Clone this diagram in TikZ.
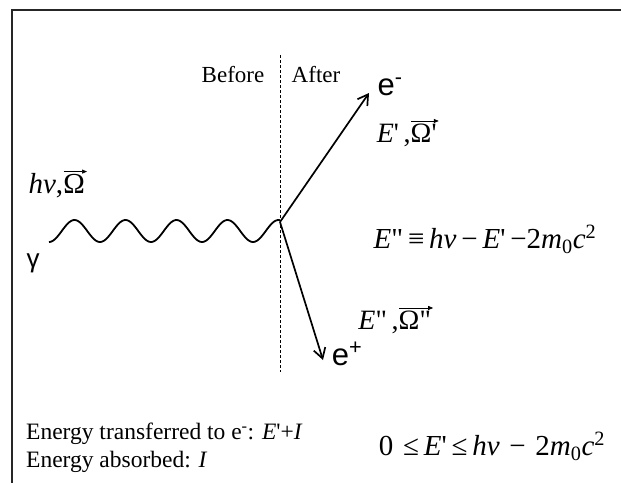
\RequirePackage{fix-cm}
\documentclass[tikz,border=0pt]{standalone}
\usepackage{fontspec}
\setmainfont{Liberation Serif}[Ligatures=TeXOff]
\newfontfamily\arialf{Liberation Sans}
\usetikzlibrary{arrows.meta}
\newcommand\vecarr[1]{\tikz[baseline=(v.base),x=1cm,y=1cm]{\node[inner sep=0pt,anchor=base](v){#1};\draw[line width=0.7pt,-{Triangle[length=5pt,width=4pt]}] ([xshift=0.5pt,yshift=3pt]v.north west) -- ([xshift=2pt,yshift=3pt]v.north east);}}
\tikzset{
  lbl/.style={inner sep=0pt, anchor=center},
  particle/.style={line width=1.7pt, -{Straight Barb[length=10pt,width=12pt,line width=1.7pt]}},
  frameline/.style={line width=1.6pt, black!85},
}
\begin{document}
\begin{tikzpicture}[x=1pt,y=-1pt]
\useasboundingbox (0,0) rectangle (621,483);
% frame
\draw[frameline] (621,10) -- (12,10) -- (12,483);
% dashed divider
\coordinate (dtop) at (280,55);
\coordinate (dbot) at (280,372);
\draw[line width=0.8pt, dash pattern=on 3pt off 2pt] (dtop) -- (dbot);
% junction
\coordinate (J) at (280,222);
\coordinate (em) at (369,93);
\coordinate (ep) at (323,360);
% photon wave
\draw[line width=1.8pt, smooth] plot[domain=49:280, samples=160] (\x, {231+11*cos((\x-49)*7.0588)});
% arrows
\draw[particle] (J) -- (em);
\draw[particle] (J) -- (ep);
% labels
\node[lbl, font=\fontsize{23}{26}\selectfont] (before) at (233,75) {Before};
\node[lbl, font=\fontsize{23}{26}\selectfont] (after) at (316,75) {After};
\node[lbl, font=\arialf\fontsize{31}{33}\selectfont] (elab) at (390,87) {e\textsuperscript{-}};
\node[lbl, font=\arialf\fontsize{31}{33}\selectfont] (plab) at (347,354) {e\textsuperscript{+}};
\node[lbl, font=\arialf\fontsize{26}{28}\selectfont] (gam) at (33,263) {γ};
\node[lbl, font=\fontsize{29}{31}\selectfont] (inlab) at (58,184) {\textit{hν},\vecarr{Ω}};
\node[lbl, font=\fontsize{28}{30}\selectfont] (e1lab) at (408,133) {\textit{E}'\,,\vecarr{Ω'}};
\node[lbl, font=\fontsize{28}{30}\selectfont] (e2lab) at (396,320) {\textit{E}"\,,\vecarr{Ω"}};
\node[lbl, font=\fontsize{29}{32}\selectfont] (eq1) at (485,239) {\textit{E}"\,≡\,\textit{hν}\,−\,\textit{E}'\,−2\textit{m}\textsubscript{0}\textit{c}\textsuperscript{2}};
\node[lbl, font=\fontsize{29}{32}\selectfont] (eq2) at (492,446) {0\,\,≤\,\textit{E}'\,≤\,\textit{hν}\,\,−\,\,2\textit{m}\textsubscript{0}\textit{c}\textsuperscript{2}};
\node[anchor=west, inner sep=0pt, align=left, font=\fontsize{23.5}{28}\selectfont] (note) at (26,448) {Energy transferred to e\textsuperscript{-}: \textit{E}'+\textit{I}\\Energy absorbed: \textit{I}};
\end{tikzpicture}
\end{document}
